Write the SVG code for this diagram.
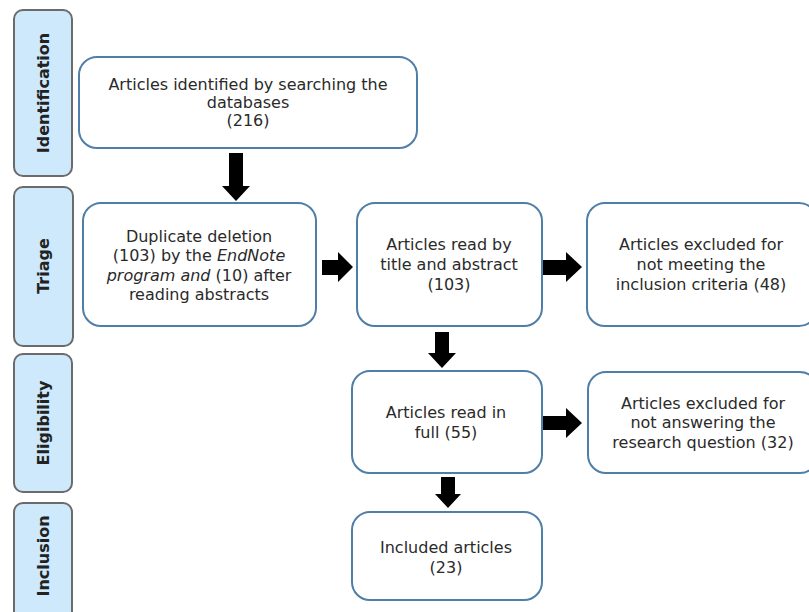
<svg xmlns="http://www.w3.org/2000/svg" width="809" height="612" viewBox="0 0 809 612">
<style>
.phase{fill:#cde9fb;stroke:#6b6b6b;stroke-width:2}
.pt{font-family:"DejaVu Sans",Verdana,sans-serif;font-size:16px;font-weight:bold;fill:#222;text-anchor:middle}
.box{fill:#fff;stroke:#4f7ea8;stroke-width:2}
.t{font-family:"DejaVu Sans",Verdana,sans-serif;font-size:16px;fill:#2a2a2a;text-anchor:middle}
.arr{fill:#000}
</style>
<rect width="809" height="612" fill="#fff"/>
<g id="phase-identification"><rect class="phase" x="14" y="10" width="58" height="166" rx="9"/><text class="pt" transform="translate(49,93) rotate(-90)">Identification</text></g>
<g id="phase-triage"><rect class="phase" x="14" y="187" width="59" height="159" rx="9"/><text class="pt" transform="translate(49,266) rotate(-90)">Triage</text></g>
<g id="phase-eligibility"><rect class="phase" x="14" y="354" width="58" height="138" rx="9"/><text class="pt" transform="translate(49,423) rotate(-90)">Eligibility</text></g>
<g id="phase-inclusion"><rect class="phase" x="14" y="503" width="58" height="120" rx="9"/><text class="pt" transform="translate(49,556) rotate(-90)">Inclusion</text></g>

<g id="connectors">
<polygon class="arr" points="229,153 243,153 243,186 250,186 236,201 222,186 229,186"/>
<polygon class="arr" points="322,260 338,260 338,252 353,267 338,282 338,275 322,275"/>
<polygon class="arr" points="543,260 566,260 566,252 582,267 566,282 566,275 543,275"/>
<polygon class="arr" points="435,332 449,332 449,353 456,353 442,368 428,353 435,353"/>
<polygon class="arr" points="543,416 566,416 566,408 582,423 566,438 566,430 543,430"/>
<polygon class="arr" points="441,477 455,477 455,494 461,494 448,508 435,494 441,494"/>
</g>

<g id="n-identified"><rect class="box" x="79" y="57" width="338" height="91" rx="18"/>
<text class="t" x="248" y="90">Articles identified by searching the</text>
<text class="t" x="248" y="108">databases</text>
<text class="t" x="248" y="126">(216)</text></g>

<g id="n-duplicate"><rect class="box" x="83" y="203" width="233" height="123" rx="18"/>
<text class="t" x="199" y="242">Duplicate deletion</text>
<text class="t" x="199" y="261">(103) by the <tspan font-style="italic">EndNote</tspan></text>
<text class="t" x="199" y="281"><tspan font-style="italic">program and</tspan> (10) after</text>
<text class="t" x="199" y="300">reading abstracts</text></g>

<g id="n-title"><rect class="box" x="357" y="203" width="185" height="123" rx="18"/>
<text class="t" x="449" y="250">Articles read by</text>
<text class="t" x="449" y="270">title and abstract</text>
<text class="t" x="449" y="290">(103)</text></g>

<g id="n-excl1"><rect class="box" x="587" y="203" width="230" height="123" rx="18"/>
<text class="t" x="701" y="250">Articles excluded for</text>
<text class="t" x="701" y="270">not meeting the</text>
<text class="t" x="701" y="290">inclusion criteria (48)</text></g>

<g id="n-full"><rect class="box" x="352" y="371" width="190" height="102" rx="18"/>
<text class="t" x="446" y="418">Articles read in</text>
<text class="t" x="446" y="438">full (55)</text></g>

<g id="n-excl2"><rect class="box" x="588" y="372" width="230" height="101" rx="18"/>
<text class="t" x="703" y="409">Articles excluded for</text>
<text class="t" x="703" y="428">not answering the</text>
<text class="t" x="703" y="448">research question (32)</text></g>

<g id="n-included"><rect class="box" x="352" y="512" width="190" height="88" rx="18"/>
<text class="t" x="446" y="553">Included articles</text>
<text class="t" x="446" y="573">(23)</text></g>
</svg>
